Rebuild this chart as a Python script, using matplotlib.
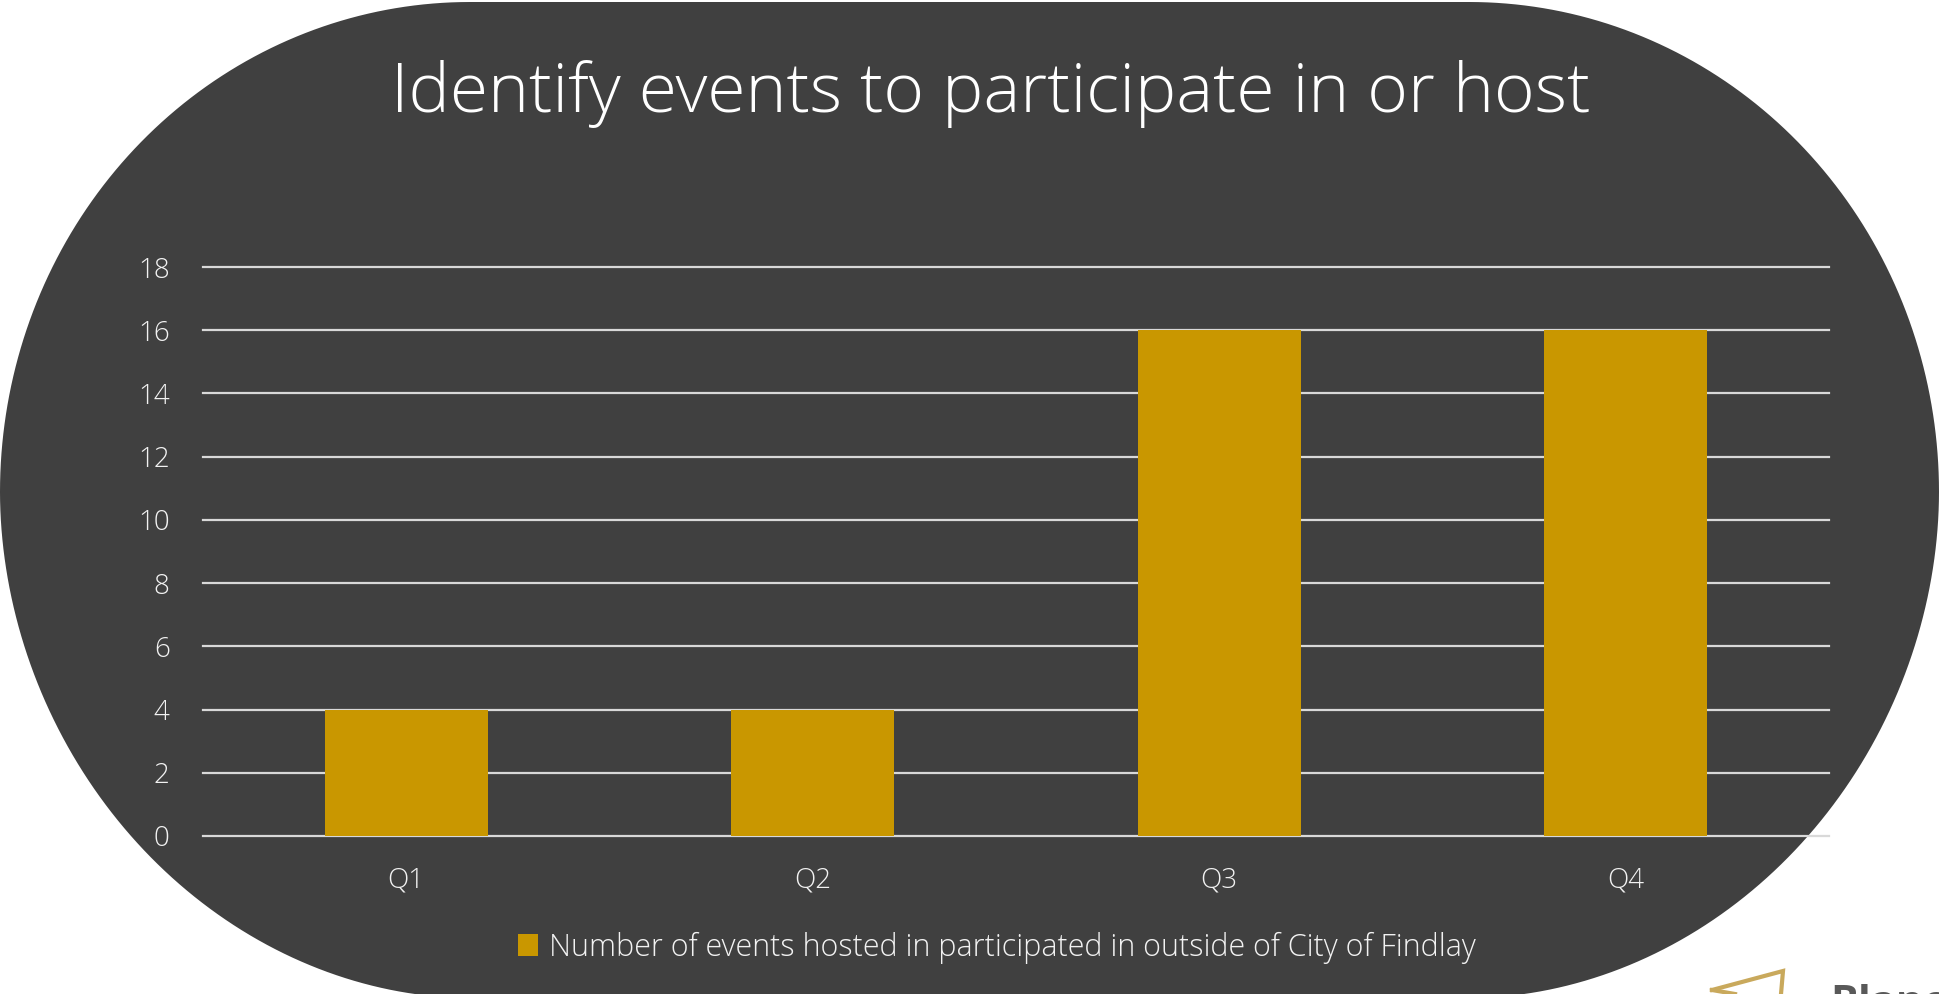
import numpy as np
import matplotlib
import matplotlib.pyplot as plt
from matplotlib.patches import Polygon
from matplotlib import font_manager as fm

# ---- data ----
categories = ['Q1', 'Q2', 'Q3', 'Q4']
values = [4, 4, 16, 16]
series_name = 'Number of events hosted in participated in outside of City of Findlay'
title_text = 'Identify events to participate in or host'
y_ticks = [0, 2, 4, 6, 8, 10, 12, 14, 16, 18]

# ---- choose a light font if available ----
def _w(v):
    if isinstance(v, (int, float)):
        return v
    return {'ultralight': 200, 'light': 300, 'normal': 400, 'regular': 400,
            'book': 400, 'medium': 500}.get(str(v).lower(), 400)

light_family = None
for fam in ['Segoe UI', 'Open Sans', 'Lato', 'Roboto', 'Noto Sans', 'Inter']:
    for f in fm.fontManager.ttflist:
        if f.name == fam and 200 <= _w(f.weight) <= 300 and f.style == 'normal':
            light_family = fam
            break
    if light_family:
        break
if light_family is None:
    light_family = 'Open Sans'

plt.rcParams['font.family'] = [light_family, 'DejaVu Sans']
plt.rcParams['font.weight'] = 300

W, H = 1939, 994
fig = plt.figure(figsize=(W / 100, H / 100), dpi=100)
fig.patch.set_facecolor('white')

# ---- background rounded shape ----
bg = fig.add_axes([0, 0, 1, 1])
bg.set_xlim(0, W)
bg.set_ylim(H, 0)
bg.axis('off')


def corner(cx, cy, rx, ry, n, t0, t1):
    t = np.linspace(t0, t1, 80)
    c, s = np.cos(t), np.sin(t)
    x = cx + rx * np.sign(c) * np.abs(c) ** (2 / n)
    y = cy + ry * np.sign(s) * np.abs(s) ** (2 / n)
    return np.column_stack([x, y])


pts = np.vstack([
    corner(470, 492, 470, 490, 2.0, np.pi, 1.5 * np.pi),
    corner(1469, 492, 470, 490, 2.0, 1.5 * np.pi, 2 * np.pi),
    corner(1469, 492, 470, 506, 1.95, 0, 0.5 * np.pi),
    corner(470, 492, 470, 506, 1.95, 0.5 * np.pi, np.pi),
])
bg.add_patch(Polygon(pts, closed=True, facecolor='#404040', edgecolor='none'))

# logo fragment (bottom right)
bg.plot([1712, 1783, 1781], [990, 971, 994], color='#C9A95C', lw=3, solid_joinstyle='miter')
bg.plot([1712, 1735], [990, 994], color='#C9A95C', lw=3)
bg.text(1830, 984, 'Blanchard', color='#595959', fontsize=30, fontweight='bold',
        family=['Open Sans', 'DejaVu Sans'], ha='left', va='top')

# ---- chart ----
ax = fig.add_axes([203 / W, (H - 836) / H, (1829 - 203) / W, (836 - 267) / H])
ax.patch.set_alpha(0)
x = np.arange(len(categories))
bars = ax.bar(x, values, width=0.4, color='#C99700', zorder=3, label=series_name)
ax.set_xlim(-0.5, len(categories) - 0.5)
ax.set_ylim(0, 18)
ax.set_yticks(y_ticks)
ax.set_yticklabels([str(v) for v in y_ticks])
ax.set_xticks(x)
ax.set_xticklabels(categories)
ax.grid(axis='y', color='#D9D9D9', lw=1.6)
ax.set_axisbelow(True)
for sp in ax.spines.values():
    sp.set_visible(False)
for gl in ax.get_ygridlines():
    gl.set_clip_on(False)
ax.tick_params(axis='y', length=0, labelcolor='#F2F2F2', labelsize=20, pad=24)
ax.tick_params(axis='x', length=0, labelcolor='#F2F2F2', labelsize=20, pad=22)

fig.text(991 / W, (H - 112) / H, title_text, color='white', fontsize=50,
         ha='center', va='baseline', fontweight=300)

leg = ax.legend(loc='center', bbox_to_anchor=(997 / W, (H - 948) / H),
                bbox_transform=fig.transFigure, frameon=False, fontsize=22,
                handlelength=0.65, handleheight=0.72, handletextpad=0.35, borderpad=0)
for t in leg.get_texts():
    t.set_color('#F2F2F2')

fig.savefig('out.png', dpi=100, facecolor='white')
